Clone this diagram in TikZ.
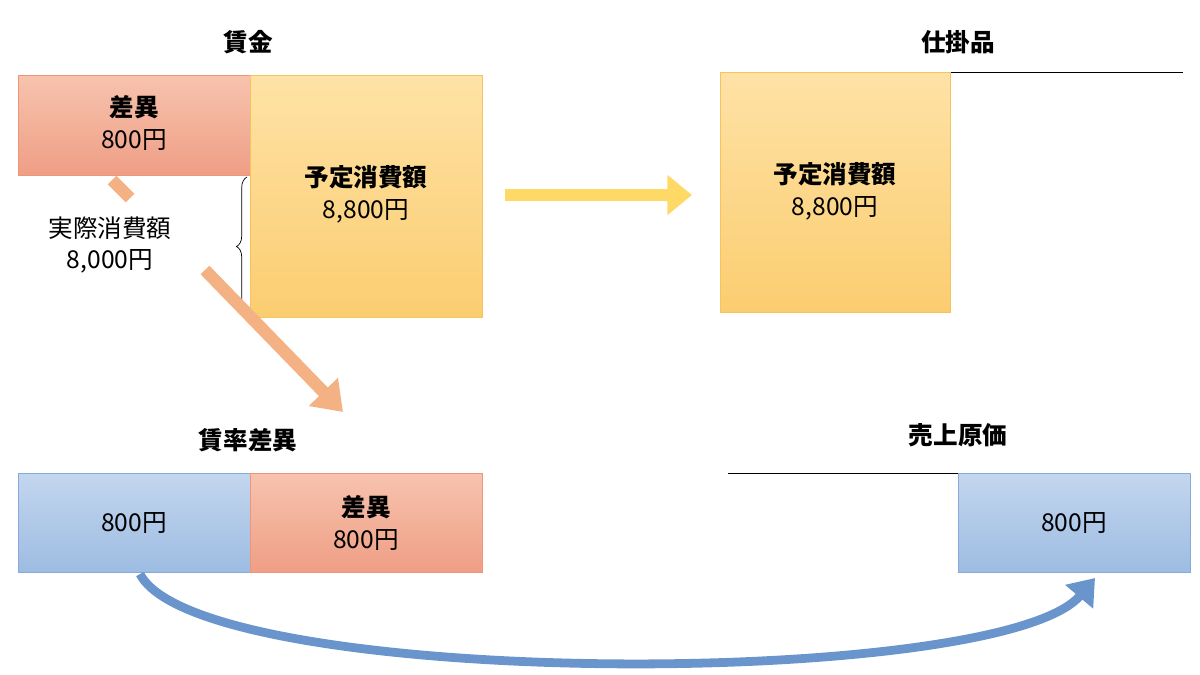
\documentclass[tikz,border=0pt]{standalone}
\usepackage{fontspec}
\setmainfont{Noto Sans CJK JP}
\usetikzlibrary{decorations.pathreplacing,arrows.meta}
\definecolor{salA}{HTML}{F7C3AE}\definecolor{salB}{HTML}{EF9E85}\definecolor{salE}{HTML}{F0957A}
\definecolor{orA}{HTML}{FEE2A6}\definecolor{orB}{HTML}{FBCD70}\definecolor{orE}{HTML}{F7C35C}
\definecolor{blA}{HTML}{C3D6EE}\definecolor{blB}{HTML}{9DBCE2}\definecolor{blE}{HTML}{88AADB}
\definecolor{arS}{HTML}{F4B183}\definecolor{arY}{HTML}{FFD966}\definecolor{arB}{HTML}{6A95CC}
\begin{document}
\begin{tikzpicture}[x=0.02cm,y=-0.02cm,
 sal/.style={draw=salE,top color=salA,bottom color=salB,anchor=north west,inner sep=0},
 ora/.style={draw=orE,top color=orA,bottom color=orB,anchor=north west,inner sep=0},
 blu/.style={draw=blE,top color=blA,bottom color=blB,anchor=north west,inner sep=0},
 ttl/.style={font=\fontsize{14}{16}\selectfont\bfseries},
 txt/.style={font=\fontsize{14}{18}\selectfont,align=center},
 btxt/.style={font=\fontsize{14}{18}\selectfont,align=center}]
\useasboundingbox (0,0) rectangle (1200,674);
% top left
\node[ttl] (t1) at (248,42) {賃金};
\node[sal,minimum width=232*0.02cm,minimum height=100*0.02cm] (d1) at (18,75) {};
\node[btxt] at (134,123) {\textbf{差異}\\800円};
\node[ora,minimum width=232*0.02cm,minimum height=242*0.02cm] (y1) at (250,75) {};
\node[btxt] at (366,194) {\textbf{予定消費額}\\8,800円};
\draw[decorate,decoration={brace,amplitude=6pt}] (247,316) -- (247,177);
\node[txt] (jc) at (110,245) {実際消費額\\8,000円};
% salmon arrow
\coordinate (s0) at (112,180); \coordinate (s1) at (130,198);
\coordinate (s2) at (205,270); \coordinate (s3) at (343,412);
\draw[arS,line width=7pt] (s0) -- (s1);
\draw[arS,line width=7pt,-{Triangle[length=16pt,width=22pt]}] (s2) -- (s3);
% yellow arrow
\coordinate (a0) at (505,195); \coordinate (a1) at (692,195);
\draw[arY,line width=7pt,-{Triangle[length=14pt,width=22pt]}] (a0) -- (a1);
% shikakehin
\node[ttl] (t2) at (958,42) {仕掛品};
\draw (950,72) -- (1183,72);
\node[ora,minimum width=230*0.02cm,minimum height=240*0.02cm] (y2) at (720,72) {};
\node[btxt] at (835,191) {\textbf{予定消費額}\\8,800円};
% bottom left
\node[ttl] (t3) at (248,440) {賃率差異};
\node[blu,minimum width=232*0.02cm,minimum height=99*0.02cm] (b1) at (18,473) {};
\node[txt] at (134,523) {800円};
\node[sal,minimum width=232*0.02cm,minimum height=99*0.02cm] (d2) at (250,473) {};
\node[btxt] at (366,523) {\textbf{差異}\\800円};
% bottom right
\node[ttl] (t4) at (958,435) {売上原価};
\draw (728,473) -- (958,473);
\node[blu,minimum width=232*0.02cm,minimum height=99*0.02cm] (b2) at (958,473) {};
\node[txt] at (1074,523) {800円};
% curved arrow
\draw[arB,line width=5pt,-{Triangle[length=14pt,width=20pt]}] (140,574) .. controls (200,690) and (1000,690) .. (1095,578);
\end{tikzpicture}
\end{document}
